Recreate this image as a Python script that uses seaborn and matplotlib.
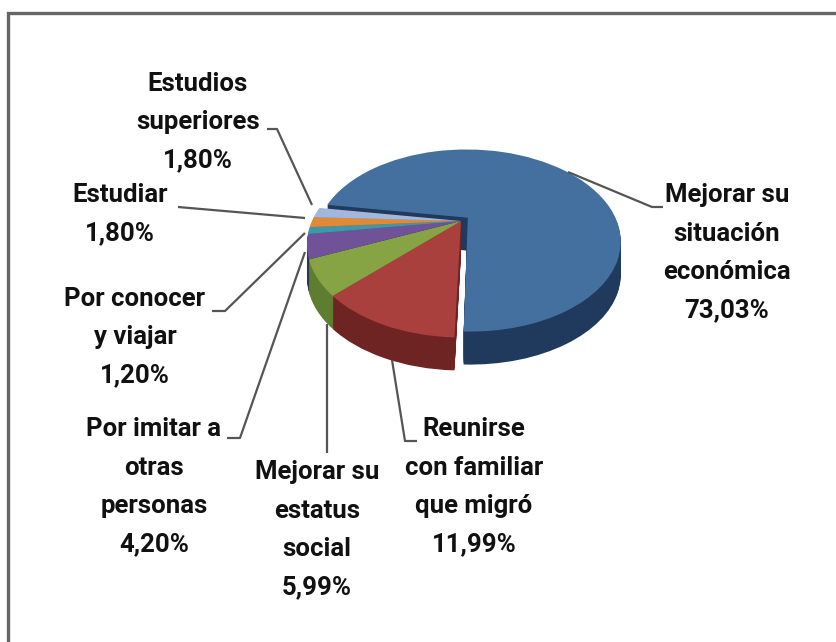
import numpy as np
import matplotlib
matplotlib.use("Agg")
import matplotlib.pyplot as plt
from matplotlib.transforms import Transform
import seaborn as sns

labels = ["Mejorar su\nsituación\neconómica", "Reunirse\ncon familiar\nque migró",
          "Mejorar su\nestatus\nsocial", "Por imitar a\notras\npersonas",
          "Por conocer\ny viajar", "Estudiar", "Estudios\nsuperiores"]
values = [73.03, 11.99, 5.99, 4.20, 1.20, 1.80, 1.80]
colors = ["#44709f", "#a9403d", "#87a445", "#6f5297", "#3d97ad", "#e08a35", "#a3b7dd"]
side_colors = ["#1f3a5c", "#6e2422", "#5f7d30", "#2a3550", "#276575", "#9a5c20", "#6f7f9f"]
explode = [0.06, 0, 0, 0, 0, 0, 0]

# text centres in pixels
label_pos = [(727, 253), (474, 487), (317, 530), (154, 487), (135, 337), (120, 214), (198, 122)]

# leader lines in pixels
leaders = [
    [(568, 172), (652, 207), (663, 207)],
    [(392, 360), (405, 441), (417, 441)],
    [(327, 324), (327, 453)],
    [(305, 252), (240, 438), (227, 438)],
    [(305, 233), (225, 311), (212, 311)],
    [(305, 218), (178, 207)],
    [(312, 205), (277, 129), (267, 129)],
]

sns.set_style("white")
plt.rcParams['font.family'] = ['Roboto', 'Liberation Sans']


class Tilt(Transform):
    # unit circle -> tilted pie seen in perspective, result in pixels
    input_dims = 2
    output_dims = 2
    is_affine = False
    has_inverse = False

    def __init__(self, drop=0):
        super().__init__()
        self.drop = drop

    def transform_non_affine(self, xy):
        xy = np.asarray(xy, dtype=float)
        w = 1 + 0.253 * xy[:, 1]
        return np.column_stack([461 + 149 * xy[:, 0] / w,
                                221 - 87 * xy[:, 1] / w + self.drop])


fig = plt.figure(figsize=(8.36, 6.42), dpi=100)
ax = fig.add_axes([0, 0, 1, 1])

for drop in list(range(33, 0, -1)) + [0]:
    wedges = ax.pie(values, colors=side_colors if drop else colors, explode=explode,
                    startangle=171, counterclock=False, normalize=True,
                    wedgeprops={'linewidth': 0})[0]
    for w in wedges:
        w.set_transform(Tilt(drop) + ax.transData)
        w.set_clip_on(False)

ax.set_aspect('auto')
ax.set_xlim(0, 836)
ax.set_ylim(642, 0)
ax.axis('off')

for pts in leaders:
    ax.plot(*zip(*pts), color="#555555", lw=1.6, solid_capstyle='butt')

for name, val, (x, y) in zip(labels, values, label_pos):
    txt = name + "\n" + f"{val:.2f}".replace(".", ",") + "%"
    ax.text(x, y, txt, ha='center', va='center', fontsize=18.5, fontweight='bold',
            color="#111111", linespacing=1.76)

# frame only shows on the left and top
ax.plot([8, 8, 836], [642, 13, 13], color="#666666", lw=2.4, solid_joinstyle='miter')

fig.savefig("out.png", dpi=100, facecolor="white")
